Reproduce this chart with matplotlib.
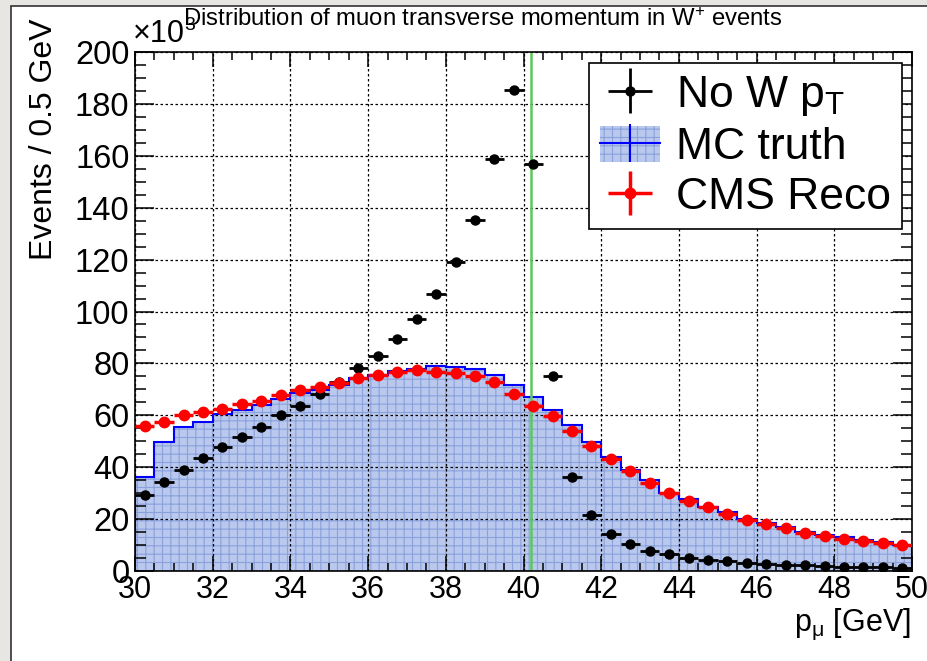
import matplotlib
matplotlib.use("Agg")
import matplotlib.pyplot as plt
from matplotlib.ticker import MultipleLocator
from matplotlib.patches import Patch, Rectangle
from matplotlib.lines import Line2D
from matplotlib.legend_handler import HandlerTuple
import numpy as np

plt.rcParams['font.family'] = ['Liberation Sans', 'DejaVu Sans']
plt.rcParams['mathtext.fontset'] = 'custom'
plt.rcParams['mathtext.rm'] = 'Liberation Sans'
plt.rcParams['mathtext.it'] = 'Liberation Sans'
plt.rcParams['mathtext.default'] = 'regular'
plt.rcParams['hatch.linewidth'] = 0.8

# binning: 30 - 50 GeV in 0.5 GeV bins, counts in units of 10^3
edges = np.arange(30.0, 50.01, 0.5)
centers = 0.5 * (edges[:-1] + edges[1:])
half_width = 0.25

# "No W pT" (black points)
no_w_pt = [29.1, 34.2, 39.1, 43.5, 47.9, 51.7, 55.5, 60.0, 63.7, 68.2,
           73.0, 78.3, 82.7, 89.4, 97.0, 106.8, 119.0, 135.4, 158.6, 185.3,
           157.0, 75.3, 36.4, 21.6, 14.2, 10.4, 7.7, 6.4, 5.0, 4.4,
           3.7, 3.0, 2.8, 2.3, 2.2, 1.8, 1.7, 1.5, 1.4, 1.3]

# MC truth (blue hatched histogram)
mc_truth = [36.3, 49.8, 55.3, 57.5, 60.5, 62.0, 64.1, 66.3, 68.6, 69.6,
            71.7, 74.5, 75.6, 77.2, 77.9, 78.9, 78.5, 78.0, 75.6, 71.7,
            67.1, 61.9, 56.1, 49.8, 44.0, 39.0, 34.9, 30.2, 27.8, 24.8,
            22.8, 20.0, 18.4, 16.9, 15.2, 13.9, 13.0, 12.0, 11.1, 10.0]

# CMS Reco (red points)
cms_reco = [56.0, 57.4, 60.0, 61.4, 62.5, 64.4, 65.4, 67.8, 69.9, 71.0,
            72.3, 74.4, 75.4, 76.6, 77.3, 76.7, 76.2, 75.3, 72.8, 68.3,
            63.7, 59.6, 53.8, 48.0, 43.1, 38.6, 33.8, 30.2, 26.8, 24.5,
            22.0, 19.7, 18.0, 16.5, 14.8, 13.5, 12.5, 11.6, 10.8, 9.9]

half_mw = 40.2  # green line

fill_face = '#b9c8ec'
fill_hatch = '#8aa1dc'

fig = plt.figure(figsize=(9.27, 6.61), dpi=100, facecolor='#e8e6e3')
fig.patches.append(Rectangle((11 / 927, -0.05), 1.0, 1.05 - 6 / 661,
                             transform=fig.transFigure, facecolor='white',
                             edgecolor='#333333', lw=1.2, zorder=-1))

ax = fig.add_axes([135 / 927, 1 - 571 / 661, 777 / 927, 519 / 661])

# MC truth histogram: hatched fill + blue outline
ax.stairs(mc_truth, edges, fill=True, facecolor=fill_face, edgecolor=fill_hatch,
          hatch='++', lw=0, zorder=1)
ax.stairs(mc_truth, edges, color='#0000ff', lw=1.5, zorder=2)

ax.axvline(half_mw, color='#5cc85c', lw=1.8, zorder=2.2)

zeros = np.zeros(len(centers))
eb_black = ax.errorbar(centers, no_w_pt, xerr=half_width, yerr=zeros, fmt='o',
                       color='black', ms=6.5, elinewidth=2, capsize=0, zorder=3)
eb_red = ax.errorbar(centers, cms_reco, xerr=half_width, yerr=zeros, fmt='o',
                     color='#ff0000', ms=7.5, elinewidth=2.5, capsize=0, zorder=4)

ax.set_xlim(30, 50)
ax.set_ylim(0, 200)
ax.xaxis.set_major_locator(MultipleLocator(2))
ax.xaxis.set_minor_locator(MultipleLocator(0.5))
ax.yaxis.set_major_locator(MultipleLocator(20))
ax.yaxis.set_minor_locator(MultipleLocator(5))
ax.tick_params(which='both', direction='in', top=True, right=True, width=1.1)
ax.tick_params(axis='x', which='major', length=11, labelsize=22, pad=3)
ax.tick_params(axis='x', which='minor', length=6)
ax.tick_params(axis='y', which='major', length=14, labelsize=23.5, pad=4)
ax.tick_params(axis='y', which='minor', length=8)
ax.set_axisbelow('line')
ax.grid(True, which='major', color='black', ls=(0, (2, 2)), lw=0.9)
for s in ax.spines.values():
    s.set_linewidth(1.2)

ax.text(-0.003, 1.005, '\u00d710', transform=ax.transAxes, fontsize=22,
        ha='left', va='bottom')
ax.text(0.063, 1.035, '3', transform=ax.transAxes, fontsize=14,
        ha='left', va='bottom')

fig.text(183 / 927, 1 - 20 / 661, 'Distribution of muon transverse momentum in W$^{+}$ events',
         fontsize=17.2, ha='left', va='center')
fig.text(44 / 927, 1 - 18 / 661, 'Events / 0.5 GeV', rotation=90, fontsize=23,
         ha='center', va='top')
fig.text(911 / 927, 1 - 607 / 661, 'p$_{\\mu}$ [GeV]', fontsize=22,
         ha='right', va='top')

mc_patch = Patch(facecolor=fill_face, edgecolor=fill_hatch, hatch='++', lw=0)
mc_cross = Line2D([], [], color='#0000ff', lw=1.5, marker='|', markersize=27,
                  markeredgewidth=1.5)
leg = ax.legend([eb_black, (mc_patch, mc_cross), eb_red],
                ['No W p$_{T}$', 'MC truth', 'CMS Reco'],
                handler_map={tuple: HandlerTuple(ndivide=1, pad=0)},
                loc='upper right', bbox_to_anchor=(0.987, 0.979), borderaxespad=0,
                fontsize=32, handlelength=1.35, handleheight=0.85,
                handletextpad=0.35, borderpad=0.25, labelspacing=0.18,
                fancybox=False, framealpha=1, edgecolor='black')
leg.get_frame().set_linewidth(1.2)
leg.set_zorder(10)

fig.savefig('out.png', dpi=100, facecolor=fig.get_facecolor())
